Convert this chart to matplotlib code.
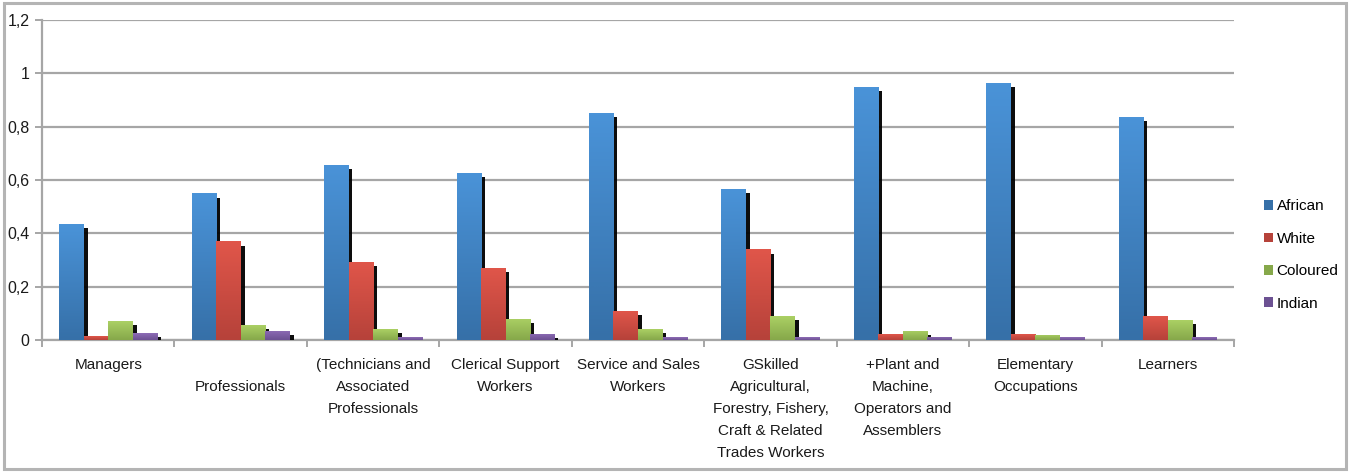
import numpy as np
import matplotlib
matplotlib.use("Agg")
import matplotlib.pyplot as plt
from matplotlib import patheffects as pe
from matplotlib.patches import Patch, Rectangle
from matplotlib.colors import LinearSegmentedColormap

plt.rcParams['font.family'] = ['Liberation Sans', 'DejaVu Sans']

categories = [
    "Managers",
    "\nProfessionals",
    "(Technicians and\nAssociated\nProfessionals",
    "Clerical Support\nWorkers",
    "Service and Sales\nWorkers",
    "GSkilled\nAgricultural,\nForestry, Fishery,\nCraft & Related\nTrades Workers",
    "+Plant and\nMachine,\nOperators and\nAssemblers",
    "Elementary\nOccupations",
    "Learners",
]
series_names = ["African", "White", "Coloured", "Indian"]
african = [0.434, 0.550, 0.658, 0.628, 0.852, 0.568, 0.950, 0.964, 0.837]
white = [0.015, 0.370, 0.293, 0.271, 0.108, 0.340, 0.022, 0.022, 0.090]
coloured = [0.071, 0.056, 0.041, 0.079, 0.041, 0.090, 0.034, 0.019, 0.075]
indian = [0.026, 0.034, 0.011, 0.023, 0.011, 0.011, 0.012, 0.011, 0.011]
y_ticks = [0, 0.2, 0.4, 0.6, 0.8, 1.0, 1.2]
y_tick_labels = ["0", "0,2", "0,4", "0,6", "0,8", "1", "1,2"]

# top / bottom colours of each series' vertical gradient
gradients = [
    ("#4a93d8", "#3670a8"),
    ("#e0564a", "#b6423a"),
    ("#abd064", "#86a84a"),
    ("#8e6cb6", "#6c5192"),
]

W, H = 1350, 472
fig = plt.figure(figsize=(W / 100, H / 100), dpi=100)
ax = fig.add_axes([42 / W, (H - 340) / H, (1234 - 42) / W, (340 - 20) / H])

values = [african, white, coloured, indian]
n = len(categories)
x = np.arange(n)
bw = 0.185
offsets = (np.arange(4) - 1.5) * bw

grad = np.linspace(0, 1, 64).reshape(-1, 1)
for k, (vals, (top, bot)) in enumerate(zip(values, gradients)):
    bars = ax.bar(x + offsets[k], vals, width=bw, color=bot, linewidth=0,
                  zorder=3 + k,
                  path_effects=[pe.SimplePatchShadow(offset=(2.8, -3.0),
                                                     shadow_rgbFace='black',
                                                     alpha=0.95),
                                pe.Normal()])
    cmap = LinearSegmentedColormap.from_list(f"g{k}", [bot, top])
    for b in bars:
        bx, by = b.get_x(), b.get_y()
        im = ax.imshow(grad, cmap=cmap, aspect='auto', origin='lower',
                       extent=(bx, bx + b.get_width(), by, by + b.get_height()),
                       zorder=3 + k + 0.5, interpolation='bilinear')
        im.set_clip_path(b)

ax.set_xlim(-0.5, n - 0.5)
ax.set_ylim(0, 1.2)

grid_c = '#a6a6a6'
ax.set_yticks(y_ticks, y_tick_labels)
ax.yaxis.grid(True, color=grid_c, linewidth=1.6, zorder=0)
ax.set_axisbelow(True)

ax.set_xticks(np.arange(n + 1) - 0.5, [""] * (n + 1))
ax.set_xticks(x, categories, minor=True)
ax.tick_params(axis='x', which='major', length=5, width=1.4, color=grid_c,
               direction='out')
ax.tick_params(axis='x', which='minor', length=0, pad=13, labelsize=11,
               labelcolor='#1a1a1a')
ax.tick_params(axis='y', length=5, width=1.4, color=grid_c, pad=4,
               labelsize=11.5, labelcolor='#1a1a1a')
for lab in ax.get_xticklabels(minor=True):
    lab.set_linespacing(1.72)
    lab.set_multialignment('center')

for s in ('top', 'right'):
    ax.spines[s].set_visible(False)
for s in ('left', 'bottom'):
    ax.spines[s].set_color(grid_c)
    ax.spines[s].set_linewidth(1.6)

handles = [Patch(facecolor=g[1], edgecolor='none') for g in gradients]
fig.legend(handles, series_names, loc='center left',
           bbox_to_anchor=(1256 / W, (H - 255) / H), frameon=False,
           fontsize=11, handlelength=0.6, handleheight=0.6,
           handletextpad=0.25, labelspacing=1.2, borderpad=0)

fig.patches.append(Rectangle((4 / W, 3 / H), (W - 8) / W, (H - 6) / H,
                             transform=fig.transFigure, fill=False,
                             edgecolor='#b4b4b4', linewidth=2.2))

fig.savefig("out.png", dpi=100)
